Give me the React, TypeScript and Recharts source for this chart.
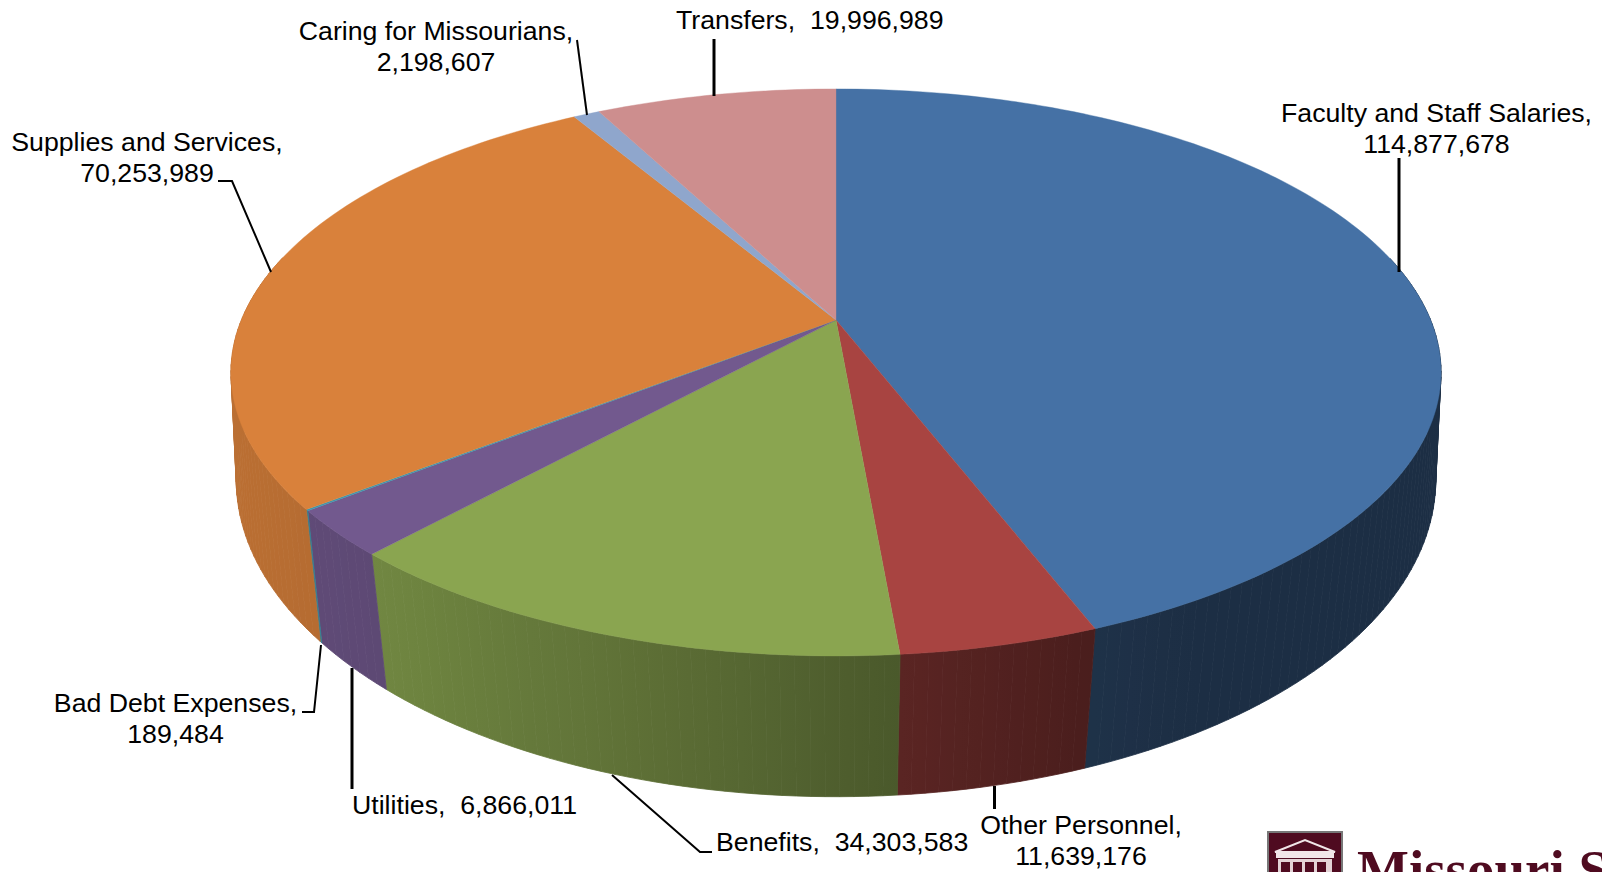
import React from 'react';
import { PieChart, Pie } from 'recharts';

// values, clockwise from 12 o'clock
const categories = [
  'Faculty and Staff Salaries',
  'Other Personnel',
  'Benefits',
  'Utilities',
  'Bad Debt Expenses',
  'Supplies and Services',
  'Caring for Missourians',
  'Transfers',
];
const amounts = [114877678, 11639176, 34303583, 6866011, 189484, 70253989, 2198607, 19996989];
const colors = ['#4571a5', '#a84441', '#8aa550', '#72598e', '#3e97ae', '#d9813b', '#8fa6cc', '#cd8e8e'];

const chartData = categories.map((name, i) => ({ name, value: amounts[i], fill: colors[i] }));

// label placement, [x, y] pairs are the picture's leader lines
const FONT = '"Liberation Sans", Arial, sans-serif';
const labelLayout = [
  { x: 1436.5, y: 122, twoLines: true, leader: [[1399, 158], [1399, 272]], w: 3 },
  { x: 1081, y: 834, twoLines: true, leader: [[994.5, 786], [994.5, 809]], w: 3 },
  { x: 716, y: 851, twoLines: false, leader: [[612, 775], [700, 852], [712, 852]], w: 2 },
  { x: 352, y: 814, twoLines: false, leader: [[352, 668], [352, 789]], w: 3 },
  { x: 175.5, y: 712, twoLines: true, leader: [[321, 645], [314, 712], [302, 712]], w: 2 },
  { x: 147, y: 151, twoLines: true, leader: [[271, 272], [232, 181], [218, 181]], w: 2 },
  { x: 436, y: 40, twoLines: true, leader: [[577, 40], [587, 115]], w: 2 },
  { x: 676, y: 29, twoLines: false, leader: [[714, 39], [714, 96]], w: 3 },
];

// perspective of the disc: top face and the smaller bottom rim
const TOP = { b: 594.6, a: 273.8, k: 0.185, dy: 0 };
const BOTTOM = { b: 593, a: 310, k: 0.15, dy: 112 };
const RAD = Math.PI / 180;
const HALF_WIDTH = 605;

function rim(cx: number, cy: number, deg: number, p: typeof TOP) {
  const u = Math.cos(deg * RAD);
  const v = Math.sin(deg * RAD);
  const d = 1 + p.k * v;
  return [cx + (p.b * u) / d, cy + p.dy - (p.a * v) / d];
}

function arcSteps(start: number, end: number) {
  const n = Math.max(1, Math.ceil(Math.abs(end - start) / 1.2));
  return Array.from({ length: n + 1 }, (_, i) => start + ((end - start) * i) / n);
}

// side wall gets darker going left to right, t is -1..1 across the disc
function sideFactor(t: number) {
  const stops = [[-1, 0.86], [-0.77, 0.82], [0.1, 0.54], [0.42, 0.44], [0.6, 0.41], [1, 0.41]];
  for (let i = 1; i < stops.length; i++) {
    if (t <= stops[i][0]) {
      const f = Math.max(0, (t - stops[i - 1][0]) / (stops[i][0] - stops[i - 1][0]));
      return stops[i - 1][1] + (stops[i][1] - stops[i - 1][1]) * f;
    }
  }
  return 0.41;
}

function shade(hex: string, f: number) {
  const n = parseInt(hex.slice(1), 16);
  const c = [n >> 16, (n >> 8) & 255, n & 255].map((x) => Math.round(x * f));
  return `rgb(${c[0]},${c[1]},${c[2]})`;
}

function TopFace(props: any) {
  const { cx, cy, startAngle, endAngle, fill } = props;
  const pts = arcSteps(startAngle, endAngle).map((a) => rim(cx, cy, a, TOP));
  const d = `M${cx},${cy} ` + pts.map((p) => `L${p[0]},${p[1]}`).join(' ') + ' Z';
  return <path d={d} fill={fill} stroke={fill} strokeWidth={0.4} />;
}

function SideFace(props: any) {
  const { cx, cy, startAngle, endAngle, fill } = props;
  // only the part of the wall facing the viewer
  const angles = arcSteps(startAngle, endAngle).filter((a) => Math.sin(a * RAD) < 0.25);
  if (angles.length < 2) return null;
  const xs = angles.map((a) => rim(cx, cy, a, TOP)[0]);
  const x0 = Math.min(...xs);
  const x1 = Math.max(...xs);
  const id = `wall-${Math.round(Math.abs(startAngle) * 100)}`;
  const stops = [0, 0.1, 0.2, 0.3, 0.4, 0.5, 0.6, 0.7, 0.8, 0.9, 1];
  const paint = `url(#${id})`;
  return (
    <g>
      <defs>
        <linearGradient id={id} gradientUnits="userSpaceOnUse" x1={x0} y1={0} x2={x1} y2={0}>
          {stops.map((s) => (
            <stop
              key={s}
              offset={s}
              stopColor={shade(fill, sideFactor((x0 + (x1 - x0) * s - cx) / HALF_WIDTH))}
            />
          ))}
        </linearGradient>
      </defs>
      {angles.slice(1).map((a1, i) => {
        const a0 = angles[i];
        const corners = [
          rim(cx, cy, a0, TOP),
          rim(cx, cy, a1, TOP),
          rim(cx, cy, a1, BOTTOM),
          rim(cx, cy, a0, BOTTOM),
        ];
        return <polygon key={i} points={corners.join(' ')} fill={paint} stroke={paint} strokeWidth={0.8} />;
      })}
    </g>
  );
}

function SliceLabel(props: any) {
  const { index } = props;
  const l = labelLayout[index];
  const name = categories[index] + ',';
  const val = amounts[index].toLocaleString('en-US');
  const textProps = { fontFamily: FONT, fontSize: 26.7, fill: '#000' };
  return (
    <g>
      <polyline
        points={l.leader.map((p) => p.join(',')).join(' ')}
        fill="none"
        stroke="#000"
        strokeWidth={l.w}
      />
      {l.twoLines ? (
        <>
          <text x={l.x} y={l.y} textAnchor="middle" {...textProps}>{name}</text>
          <text x={l.x} y={l.y + 31} textAnchor="middle" {...textProps}>{val}</text>
        </>
      ) : (
        <text x={l.x} y={l.y} style={{ whiteSpace: 'pre' }} {...textProps}>{`${name}  ${val}`}</text>
      )}
    </g>
  );
}

function Logo() {
  const maroon = '#4f0b20';
  return (
    <svg width={1602} height={872} style={{ position: 'absolute', left: 0, top: 0 }}>
      <rect x={1268} y={832} width={74} height={50} fill={maroon} stroke="#777" strokeWidth={2} />
      <polygon points="1275,852 1305,840 1335,852" fill="none" stroke="#f1e6e8" strokeWidth={2} />
      <rect x={1276} y={853} width={58} height={5} fill="#f1e6e8" />
      <rect x={1278} y={859} width={54} height={14} fill="#e3d3d6" />
      {[1281, 1293, 1305, 1317].map((x) => (
        <rect key={x} x={x} y={862} width={9} height={10} fill={maroon} />
      ))}
      <text x={1357} y={888} fontFamily='"Liberation Serif", serif' fontWeight="bold" fontSize={55} fill={maroon}>
        Missouri State
      </text>
    </svg>
  );
}

export default function App() {
  return (
    <div style={{ position: 'absolute', left: 0, top: 0, width: 1602, height: 872, background: '#fff', overflow: 'hidden' }}>
      <PieChart width={1602} height={872} margin={{ top: 0, right: 0, bottom: 0, left: 0 }}>
        <Pie
          data={chartData}
          dataKey="value"
          cx={836}
          cy={320}
          outerRadius={274}
          startAngle={90}
          endAngle={-270}
          stroke="none"
          shape={SideFace}
          isAnimationActive={false}
        />
        <Pie
          data={chartData}
          dataKey="value"
          cx={836}
          cy={320}
          outerRadius={274}
          startAngle={90}
          endAngle={-270}
          stroke="none"
          shape={TopFace}
          label={SliceLabel}
          labelLine={false}
          isAnimationActive={false}
        />
      </PieChart>
      <Logo />
    </div>
  );
}
